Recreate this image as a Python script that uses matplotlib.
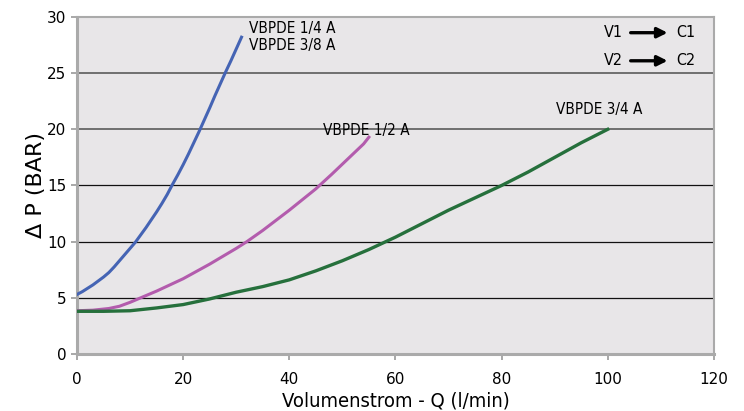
import matplotlib.pyplot as plt

# Pressure drop curves
q_14 = [0, 1, 2, 3, 4, 5, 6, 7, 8, 9, 10, 11, 12, 13, 14, 15, 16, 17, 18, 19, 20,
        21, 22, 23, 24, 25, 26, 27, 28, 29, 30, 31]
dp_14 = [5.3, 5.55, 5.85, 6.15, 6.5, 6.85, 7.25, 7.75, 8.3, 8.85, 9.4, 9.95, 10.6,
         11.25, 11.95, 12.65, 13.4, 14.2, 15.1, 15.95, 16.85, 17.8, 18.8, 19.8, 20.85,
         21.9, 23.0, 24.05, 25.1, 26.1, 27.15, 28.2]

q_12 = [0, 3, 6, 8, 10, 12, 15, 20, 25, 30, 32, 35, 40, 45, 48, 50, 52, 54, 55]
dp_12 = [3.85, 3.9, 4.05, 4.25, 4.6, 5.0, 5.6, 6.7, 8.0, 9.4, 10.0, 11.0, 12.8, 14.7,
         16.0, 16.9, 17.8, 18.7, 19.3]

q_34 = [0, 5, 10, 15, 20, 25, 30, 35, 40, 45, 50, 55, 60, 65, 70, 75, 80, 85, 90, 95, 100]
dp_34 = [3.8, 3.8, 3.85, 4.1, 4.4, 4.9, 5.5, 6.0, 6.6, 7.4, 8.3, 9.3, 10.4, 11.6, 12.8,
         13.9, 15.0, 16.2, 17.5, 18.8, 20.0]

x_ticks = [0, 20, 40, 60, 80, 100, 120]
y_ticks = [0, 5, 10, 15, 20, 25, 30]

narrow = dict(family="DejaVu Sans", stretch="condensed")

fig = plt.figure(figsize=(7.44, 4.11), dpi=100)
ax = fig.add_axes([0.1035, 0.1387, 0.856, 0.82])
ax.set_facecolor("#e8e6e8")

# grid lines
for y in y_ticks[1:-1]:
    if y >= 20:
        ax.axhline(y, color="#666666", lw=1.3, zorder=1)
    else:
        ax.axhline(y, color="#111111", lw=0.9, zorder=1)

ax.plot(q_14, dp_14, color="#4564b4", lw=2.2, zorder=3)
ax.plot(q_12, dp_12, color="#b35cad", lw=2.2, zorder=3)
ax.plot(q_34, dp_34, color="#26703c", lw=2.4, zorder=3)

ax.set_xlim(0, 120)
ax.set_ylim(0, 30)
ax.set_xticks(x_ticks)
ax.set_yticks(y_ticks)
ax.tick_params(colors="#999999", labelcolor="black", labelsize=11, length=4, width=1.2)
ax.tick_params(axis="x", pad=9)

for side in ["left", "bottom"]:
    ax.spines[side].set_color("#aaaaaa")
    ax.spines[side].set_linewidth(2.2)
for side in ["top", "right"]:
    ax.spines[side].set_color("#aaaaaa")
    ax.spines[side].set_linewidth(1.5)

ax.set_xlabel("Volumenstrom - Q (l/min)", fontsize=14.5, labelpad=3, **narrow)
ax.set_ylabel("Δ P (BAR)", fontsize=16, labelpad=1, family="DejaVu Sans")

# curve labels
ax.text(32.5, 29.0, "VBPDE 1/4 A", fontsize=11, va="center", **narrow)
ax.text(32.5, 27.5, "VBPDE 3/8 A", fontsize=11, va="center", **narrow)
ax.text(46.3, 19.9, "VBPDE 1/2 A", fontsize=11, va="center", **narrow)
ax.text(90.3, 21.8, "VBPDE 3/4 A", fontsize=11, va="center", **narrow)

# flow direction key
for y, a, b in [(28.6, "V1", "C1"), (26.1, "V2", "C2")]:
    ax.text(99.2, y, a, fontsize=11.5, va="center", **narrow)
    ax.text(113.0, y, b, fontsize=11.5, va="center", **narrow)
    ax.annotate("", xy=(111.8, y), xytext=(103.8, y),
                arrowprops=dict(arrowstyle="-|>", color="black", lw=2.4,
                                mutation_scale=15))

fig.savefig("out.png", dpi=100)
